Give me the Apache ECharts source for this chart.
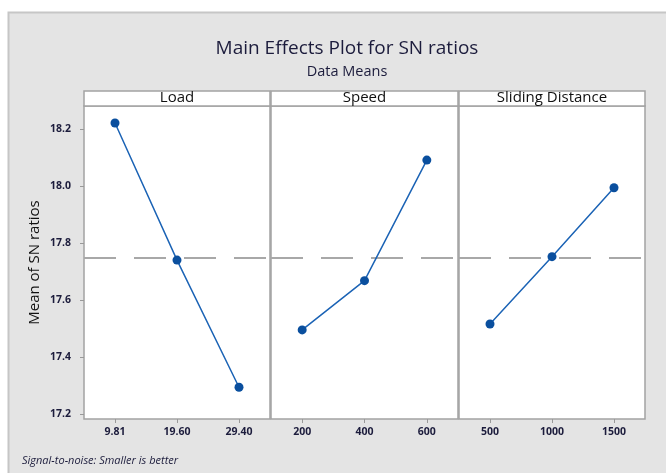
<!DOCTYPE html>
<html><head><meta charset="utf-8">
<script src="https://cdn.jsdelivr.net/npm/echarts@6/dist/echarts.min.js"></script>
<style>html,body{margin:0;padding:0;background:#fff}#c{width:666px;height:473px}</style>
</head><body><div id="c"></div>
<script>
const factors = ['Load', 'Speed', 'Sliding Distance'];
const loadLevels = ['9.81', '19.60', '29.40'];
const loadMeans = [18.221, 17.740, 17.294];
const speedLevels = ['200', '400', '600'];
const speedMeans = [17.495, 17.668, 18.091];
const slidingLevels = ['500', '1000', '1500'];
const slidingMeans = [17.516, 17.752, 17.994];
const yTicks = [17.2, 17.4, 17.6, 17.8, 18.0, 18.2];
const chartTitle = 'Main Effects Plot for SN ratios';
const subtitle = 'Data Means';
const yName = 'Mean of SN ratios';
const footnote = 'Signal-to-noise: Smaller is better';

const levels = [loadLevels, speedLevels, slidingLevels];
const means = [loadMeans, speedMeans, slidingMeans];
const all = loadMeans.concat(speedMeans, slidingMeans);
const grand = all.reduce((a, b) => a + b, 0) / all.length;

const panels = [{left: 84, width: 186}, {left: 271, width: 187}, {left: 459, width: 186}];
const gTop = 106, gHeight = 313;
const yMin = 17.1825, yMax = 18.2807;
const font = 'Open Sans';
const txt = '#1c1c3c';

const grids = [], xAxes = [], yAxes = [], series = [], graphics = [];
graphics.push({type: 'rect', shape: {x: 8.5, y: 12.5, width: 700, height: 500},
  style: {fill: '#e4e4e4', stroke: '#c6c6c6', lineWidth: 2}, z: -10});
panels.forEach((p, i) => {
  grids.push({left: p.left, top: gTop, width: p.width, height: gHeight, show: true,
    backgroundColor: '#fff', borderColor: '#a3a3a3', borderWidth: 1.5});
  graphics.push({type: 'rect', shape: {x: p.left, y: 91, width: p.width, height: 15},
    style: {fill: '#fff', stroke: '#a3a3a3', lineWidth: 1.5}});
  graphics.push({type: 'text', x: p.left + p.width / 2, y: 98,
    style: {text: factors[i], font: '15px ' + font, fill: '#111', textAlign: 'center', textVerticalAlign: 'middle'}});
  xAxes.push({type: 'category', gridIndex: i, data: levels[i], boundaryGap: true,
    axisLine: {show: false},
    axisTick: {show: true, alignWithLabel: true, length: 4, lineStyle: {color: '#999'}},
    axisLabel: {color: txt, fontSize: 10.5, fontFamily: font, fontWeight: 'bold', margin: 8}});
  yAxes.push({type: 'value', gridIndex: i, min: yMin, max: yMax,
    splitLine: {show: false}, axisLine: {show: false},
    axisTick: {show: i === 0, length: 4, lineStyle: {color: '#999'}, customValues: yTicks},
    axisLabel: {show: i === 0, color: txt, fontSize: 10.5, fontFamily: font, fontWeight: 'bold', margin: 13,
      customValues: yTicks, formatter: v => v.toFixed(1)},
    name: i === 0 ? yName : '', nameLocation: 'middle', nameGap: 42, nameRotate: 90,
    nameTextStyle: {color: '#111', fontSize: 15, fontFamily: font}});
  series.push({type: 'line', xAxisIndex: i, yAxisIndex: i, data: means[i],
    symbol: 'circle', symbolSize: 9, itemStyle: {color: '#0a4f9e'},
    lineStyle: {color: '#1b63b5', width: 1.5}, z: 5,
    markLine: {silent: true, symbol: 'none', label: {show: false}, z: 1,
      lineStyle: {color: '#a8a8a8', width: 2, type: [32, 18]},
      data: [{yAxis: grand}]}});
});
graphics.push({type: 'text', x: 22, y: 461,
  style: {text: footnote, font: 'italic 11px ' + font, fill: txt, textVerticalAlign: 'middle'}});

const chart = echarts.init(document.getElementById('c'));
chart.setOption({
  animation: false,
  title: {text: chartTitle, subtext: subtitle, left: 342, textAlign: 'center', top: 33, itemGap: 3,
    textStyle: {color: txt, fontSize: 19, fontWeight: 'normal', fontFamily: font, lineHeight: 22},
    subtextStyle: {color: txt, fontSize: 14.5, fontFamily: font, lineHeight: 17}},
  grid: grids, xAxis: xAxes, yAxis: yAxes, series: series, graphic: graphics
});
</script></body></html>
